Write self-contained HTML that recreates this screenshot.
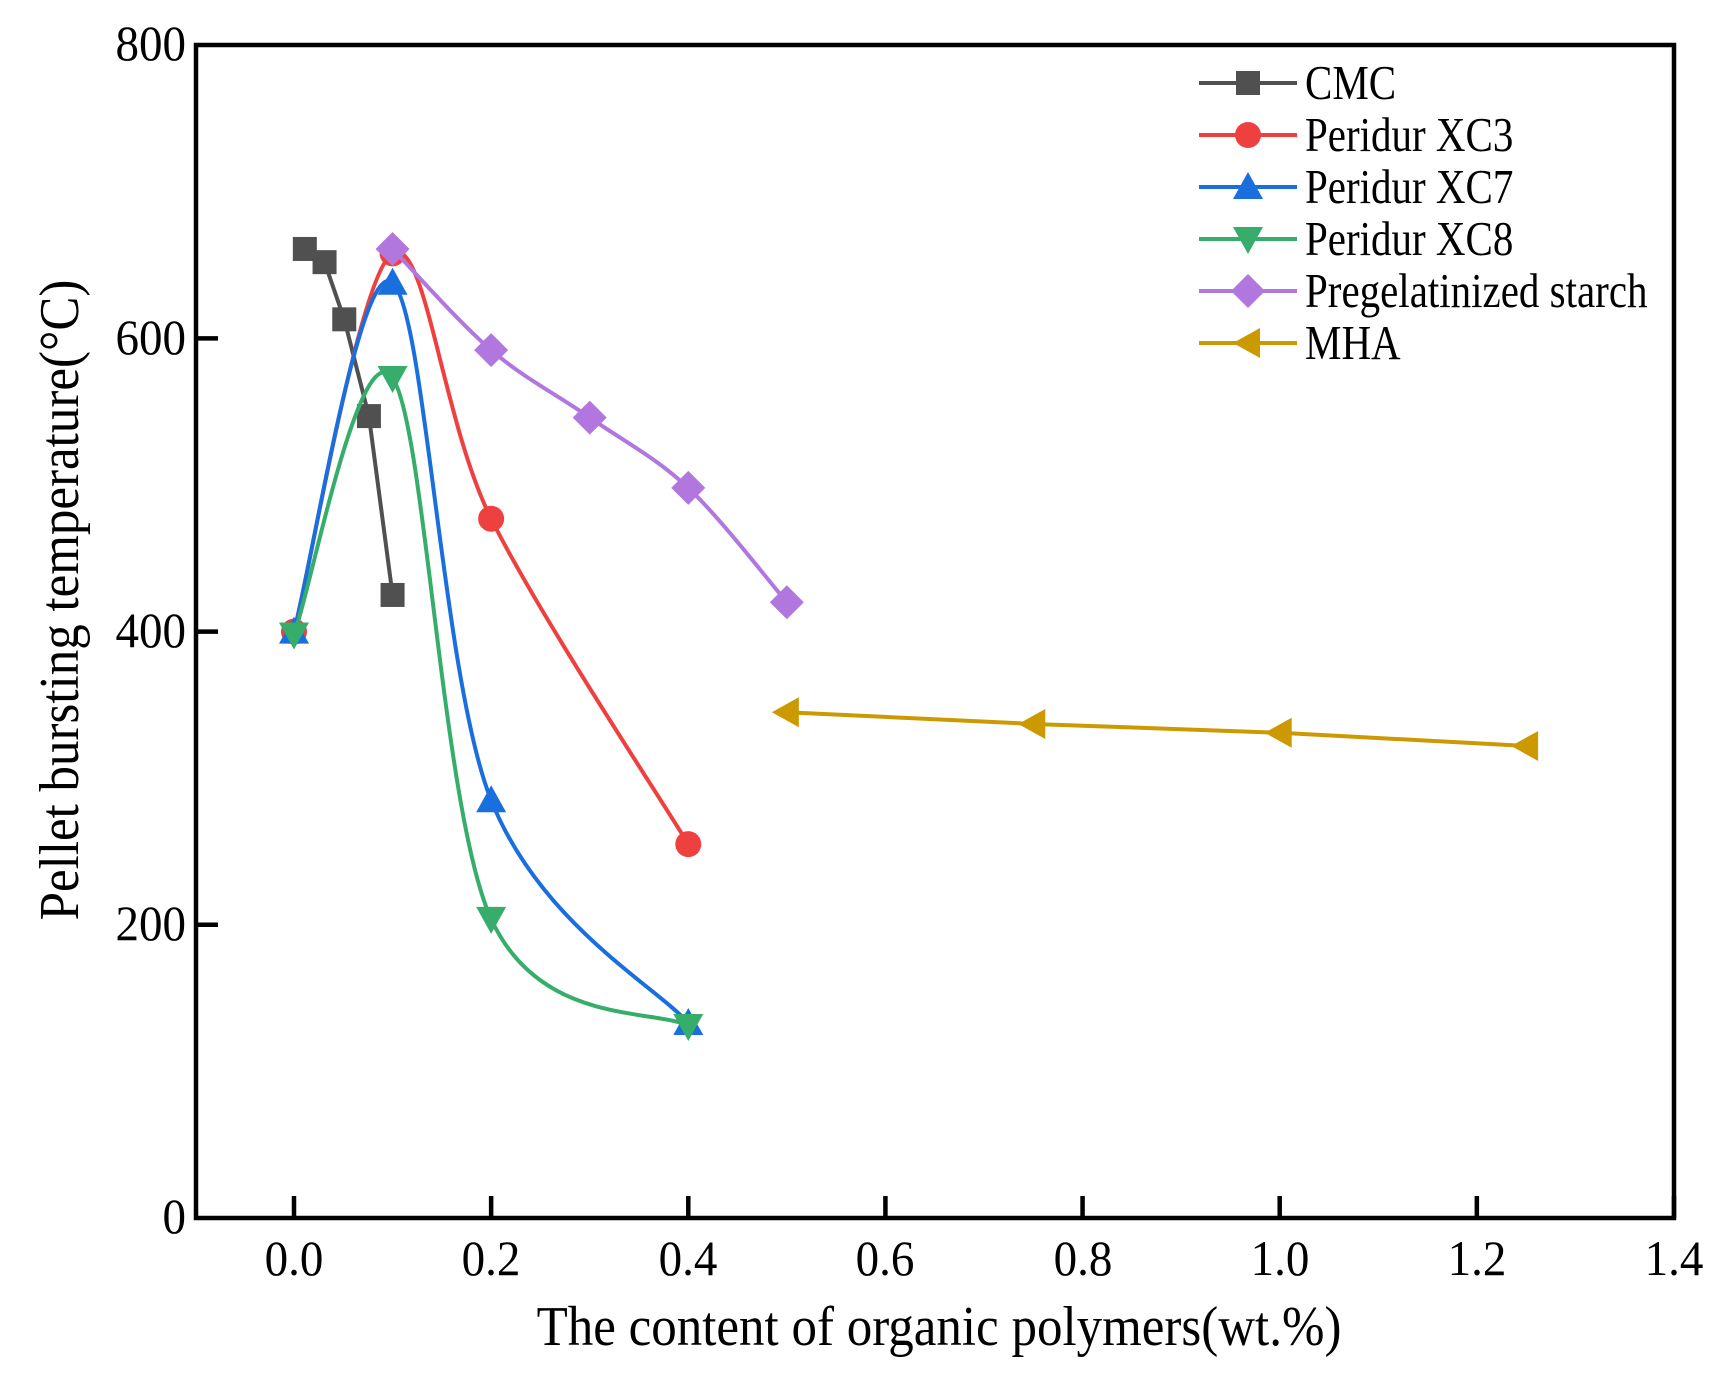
<!DOCTYPE html>
<html><head><meta charset="utf-8"><style>
html,body{margin:0;padding:0;background:#fff;}
svg{display:block;}
text{font-family:"Liberation Serif",serif;fill:#000;}
</style></head><body>
<svg id="s" width="1724" height="1388" viewBox="0 0 1724 1388">
<rect x="0" y="0" width="1724" height="1388" fill="#fff"/>
<g id="plot"></g>
<rect x="196" y="45" width="1478" height="1173" fill="none" stroke="#000" stroke-width="4.5"/>
<g id="ticks" stroke="#000" stroke-width="4.5"></g>
<g font-size="47" text-anchor="middle">
<text transform="translate(294,1275) scale(1,1.06)">0.0</text>
<text transform="translate(491,1275) scale(1,1.06)">0.2</text>
<text transform="translate(688,1275) scale(1,1.06)">0.4</text>
<text transform="translate(885,1275) scale(1,1.06)">0.6</text>
<text transform="translate(1083,1275) scale(1,1.06)">0.8</text>
<text transform="translate(1280,1275) scale(1,1.06)">1.0</text>
<text transform="translate(1477,1275) scale(1,1.06)">1.2</text>
<text transform="translate(1674,1275) scale(1,1.06)">1.4</text>
</g>
<g font-size="47" text-anchor="end">
<text transform="translate(186,1233) scale(1,1.06)">0</text>
<text transform="translate(186,940) scale(1,1.06)">200</text>
<text transform="translate(186,647) scale(1,1.06)">400</text>
<text transform="translate(186,354) scale(1,1.06)">600</text>
<text transform="translate(186,60) scale(1,1.06)">800</text>
</g>
<text transform="translate(939,1345) scale(1,1.1)" font-size="51" text-anchor="middle">The content of organic polymers(wt.%)</text>
<text transform="translate(78,600) rotate(-90) scale(1,1.1)" font-size="51" text-anchor="middle">Pellet bursting temperature(°C)</text>
<g id="legend"></g>
</svg>
<script>
var X=function(v){return 294+v*985.7;},Y=function(v){return 1218-v*1.466;};
var S=[
 {n:"CMC",c:"#505050",m:"sq",sm:0,d:[[0.011,661],[0.031,652],[0.051,613],[0.076,547],[0.1,425]]},
 {n:"Peridur XC3",c:"#ef4040",m:"ci",sm:1,d:[[0,400],[0.1,658],[0.2,477],[0.4,255]]},
 {n:"Peridur XC7",c:"#1a6fdf",m:"up",sm:1,d:[[0,400],[0.1,638],[0.2,285],[0.4,133]]},
 {n:"Peridur XC8",c:"#37ad6b",m:"dn",sm:1,d:[[0,398],[0.1,573],[0.2,204],[0.4,131]]},
 {n:"Pregelatinized starch",c:"#b177de",m:"di",sm:1,d:[[0.1,661],[0.2,592],[0.3,546],[0.4,498],[0.5,420]]},
 {n:"MHA",c:"#cc9900",m:"lt",sm:0,d:[[0.5,345],[0.75,337],[1.0,331],[1.25,322]]}
];
function mk(t,x,y,c){
 if(t=="sq")return '<rect x="'+(x-12)+'" y="'+(y-12)+'" width="24" height="24" fill="'+c+'"/>';
 if(t=="ci")return '<circle cx="'+x+'" cy="'+y+'" r="13" fill="'+c+'"/>';
 if(t=="up")return '<polygon points="'+x+','+(y-15)+' '+(x+15)+','+(y+12)+' '+(x-15)+','+(y+12)+'" fill="'+c+'"/>';
 if(t=="dn")return '<polygon points="'+x+','+(y+15)+' '+(x+15)+','+(y-12)+' '+(x-15)+','+(y-12)+'" fill="'+c+'"/>';
 if(t=="di")return '<polygon points="'+x+','+(y-17)+' '+(x+17)+','+y+' '+x+','+(y+17)+' '+(x-17)+','+y+'" fill="'+c+'"/>';
 if(t=="lt")return '<polygon points="'+(x-15)+','+y+' '+(x+12)+','+(y-15)+' '+(x+12)+','+(y+15)+'" fill="'+c+'"/>';}
function path(p,sm){var d="M"+p[0][0]+","+p[0][1];
 if(!sm){for(var i=1;i<p.length;i++)d+=" L"+p[i][0]+","+p[i][1];return d;}
 for(var i=0;i<p.length-1;i++){var p0=p[i-1]||p[i],p1=p[i],p2=p[i+1],p3=p[i+2]||p2;
  var c1=[p1[0]+(p2[0]-p0[0])/6,p1[1]+(p2[1]-p0[1])/6],c2=[p2[0]-(p3[0]-p1[0])/6,p2[1]-(p3[1]-p1[1])/6];
  d+=" C"+c1+" "+c2+" "+p2;}return d;}
var g="",lg="";
S.forEach(function(s,i){var p=s.d.map(function(q){return [X(q[0]),Y(q[1])];});
 g+='<path d="'+path(p,s.sm)+'" fill="none" stroke="'+s.c+'" stroke-width="4"/>';
 p.forEach(function(q){g+=mk(s.m,q[0],q[1],s.c);});
 var ly=83+i*52;
 lg+='<line x1="1199" y1="'+ly+'" x2="1297" y2="'+ly+'" stroke="'+s.c+'" stroke-width="4"/>'+mk(s.m,1248,ly,s.c)+
 '<text transform="translate(1305,'+(ly+16)+') scale(1,1.2)" font-size="41">'+s.n+'</text>';});
document.getElementById("plot").innerHTML=g;
document.getElementById("legend").innerHTML=lg;
var t="";
for(var v=0;v<=1.4001;v+=0.2){var x=X(v);t+='<line x1="'+x+'" y1="1218" x2="'+x+'" y2="1196"/>';}
for(var v=200;v<800;v+=200){var y=Y(v);t+='<line x1="196" y1="'+y+'" x2="218" y2="'+y+'"/>';}
document.getElementById("ticks").innerHTML=t;
</script>
</body></html>
